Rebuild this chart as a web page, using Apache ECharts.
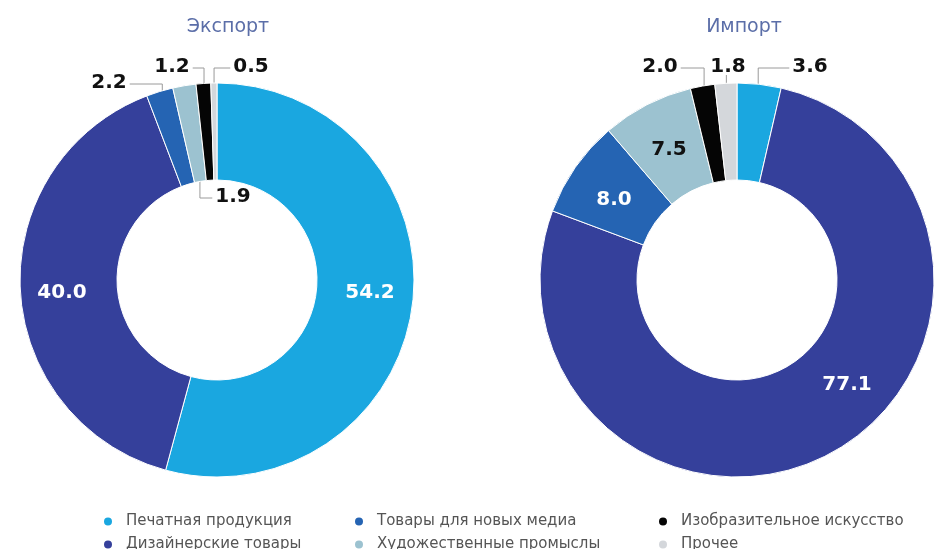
<!DOCTYPE html>
<html>
<head>
<meta charset="utf-8">
<script src="https://cdn.jsdelivr.net/npm/echarts@6/dist/echarts.min.js"></script>
<style>
html, body { margin: 0; padding: 0; background: #fff; }
#main { width: 939px; height: 549px; }
</style>
</head>
<body>
<div id="main"></div>
<script>
// данные
var categories = ['Печатная продукция', 'Дизайнерские товары', 'Товары для новых медиа',
    'Художественные промыслы', 'Изобразительное искусство', 'Прочее'];
var exportValues = [54.2, 40.0, 2.2, 1.9, 1.2, 0.5];
var importValues = [3.6, 77.1, 8.0, 7.5, 2.0, 1.8];

var colors = ['#1aa7e0', '#35409b', '#2564b3', '#9cc2d0', '#050505', '#d4d7db'];
var innerR = 100, outerR = 197;
var exportCenter = [217, 280], importCenter = [737, 280];

// где ставить подписи (side — откуда тянуть выноску)
var exportLabels = {
    0: { x: 370, y: 293, inside: true },
    1: { x: 62, y: 293, inside: true },
    2: { x: 109, y: 83, side: 'left' },
    3: { x: 233, y: 197, side: 'right', inner: true },
    4: { x: 172, y: 67, side: 'left' },
    5: { x: 251, y: 67, side: 'right' }
};
var importLabels = {
    0: { x: 810, y: 67, side: 'right' },
    1: { x: 847, y: 385, inside: true },
    2: { x: 614, y: 200, inside: true },
    3: { x: 669, y: 150, inside: true, dark: true },
    4: { x: 660, y: 67, side: 'left' },
    5: { x: 728, y: 67, side: 'top' }
};

function makeLayout(center, posMap) {
    return function (params) {
        var p = posMap[params.dataIndex];
        if (!p) return {};
        var res = { x: p.x, y: p.y, align: 'center', verticalAlign: 'middle' };
        if (p.inside || !params.labelLinePoints) return res;
        var a = params.labelLinePoints[0];
        var dx = center[0] - a[0], dy = center[1] - a[1];
        var d = Math.sqrt(dx * dx + dy * dy);
        var k = p.inner ? (d - innerR - 3) / d : 9 / d;
        var ax = a[0] + dx * k, ay = a[1] + dy * k;
        var hw = params.labelRect.width / 2, hh = params.labelRect.height / 2;
        var ly = p.y + 1;
        if (p.side === 'left') {
            res.labelLinePoints = [[ax, ay], [ax, ly], [p.x + hw + 3, ly]];
        } else if (p.side === 'right') {
            res.labelLinePoints = [[ax, ay], [ax, ly], [p.x - hw - 3, ly]];
        } else {
            res.labelLinePoints = [[ax, ay], [ax, p.y + hh - 2], [ax, p.y + hh - 2]];
        }
        return res;
    };
}

function buildData(values, posMap) {
    return values.map(function (v, i) {
        var item = { name: categories[i], value: v, itemStyle: { color: colors[i] } };
        var p = posMap[i];
        if (p && p.inside) {
            item.label = { position: 'inside', color: p.dark ? '#111' : '#fff' };
            item.labelLine = { show: false };
        }
        return item;
    });
}

function buildSeries(name, values, center, posMap) {
    return {
        name: name,
        type: 'pie',
        center: center,
        radius: [innerR, outerR],
        startAngle: 90,
        clockwise: true,
        avoidLabelOverlap: false,
        silent: true,
        itemStyle: { borderColor: '#fff', borderWidth: 1 },
        label: {
            show: true,
            position: 'outside',
            fontFamily: 'DejaVu Sans',
            fontSize: 20,
            fontWeight: 'bold',
            color: '#111',
            formatter: function (p) { return p.value.toFixed(1); }
        },
        labelLine: { show: true, length: 10, length2: 10, lineStyle: { color: '#9a9a9a', width: 1 } },
        labelLayout: makeLayout(center, posMap),
        data: buildData(values, posMap)
    };
}

// одна легенда на пункт: 3 колонки по 2 строки
var legendCols = [97, 348, 652];
var legendRows = [509, 532];
function legendItem(i) {
    return {
        left: legendCols[Math.floor(i / 2)],
        top: legendRows[i % 2],
        itemWidth: 10,
        itemHeight: 10,
        icon: 'circle',
        selectedMode: false,
        data: [categories[i]],
        textStyle: { fontFamily: 'DejaVu Sans', fontSize: 15, color: '#555', padding: [0, 0, 0, 8] }
    };
}

var myChart = echarts.init(document.getElementById('main'));
var option = {
    animation: false,
    title: [
        { text: 'Экспорт', left: 223, top: 13, textAlign: 'center',
          textStyle: { fontFamily: 'DejaVu Sans', fontSize: 19, fontWeight: 'normal', color: '#5b6ea8' } },
        { text: 'Импорт', left: 739, top: 13, textAlign: 'center',
          textStyle: { fontFamily: 'DejaVu Sans', fontSize: 19, fontWeight: 'normal', color: '#5b6ea8' } }
    ],
    legend: categories.map(function (c, i) { return legendItem(i); }),
    series: [
        buildSeries('Экспорт', exportValues, exportCenter, exportLabels),
        buildSeries('Импорт', importValues, importCenter, importLabels)
    ]
};
myChart.setOption(option);
</script>
</body>
</html>
